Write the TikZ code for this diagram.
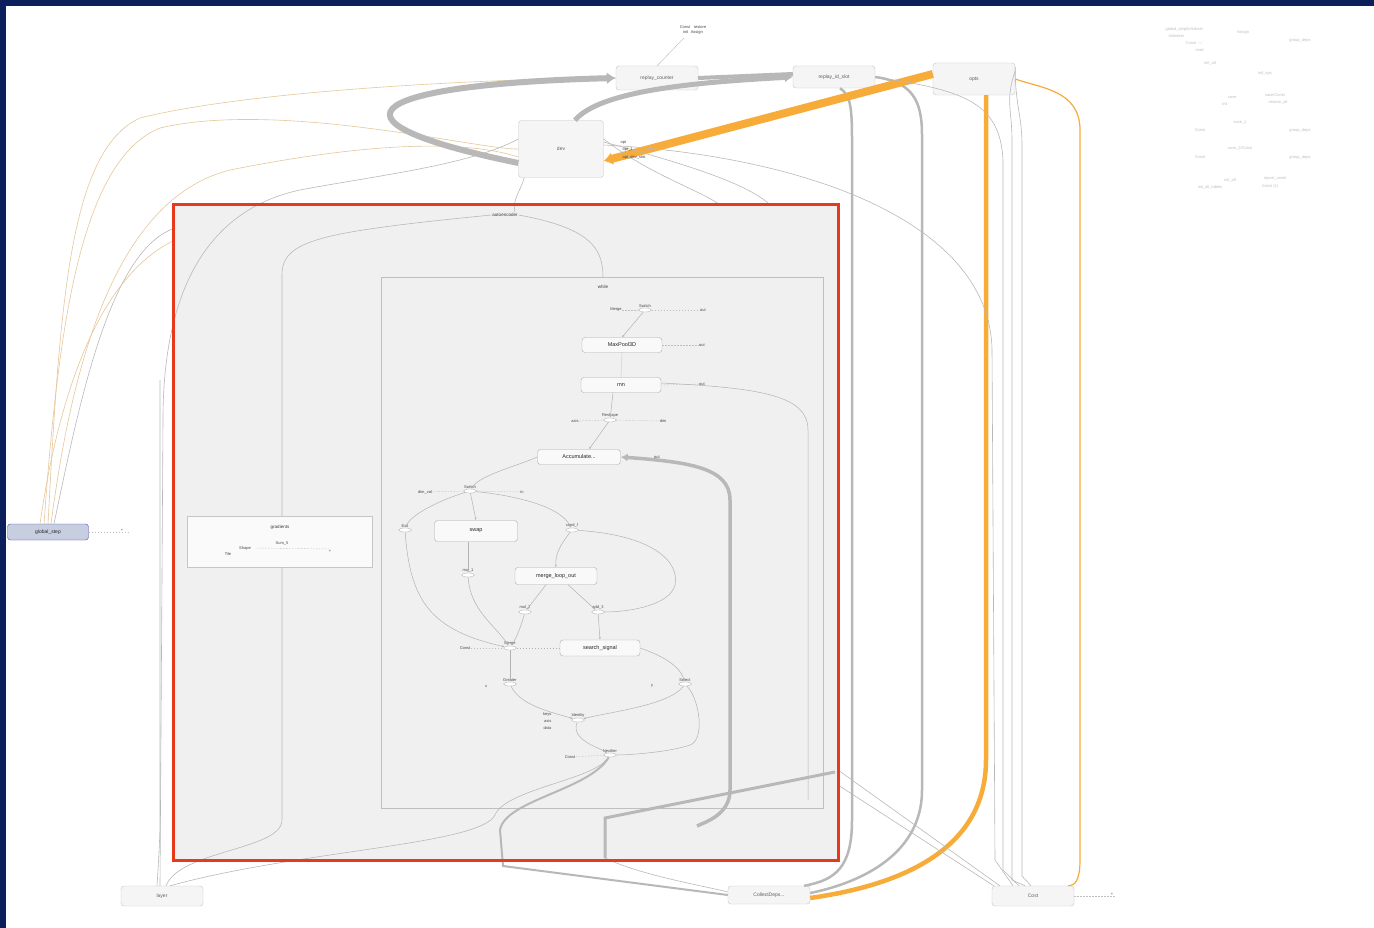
\documentclass[tikz,border=0pt]{standalone}
\usepackage{fontspec}
\setmainfont{Liberation Sans}
\usetikzlibrary{arrows.meta,shapes.geometric}
\definecolor{navy}{HTML}{0B1F5C}
\definecolor{redb}{HTML}{E8381E}
\definecolor{orng}{HTML}{F7AC3A}
\definecolor{tan}{HTML}{E6C79A}
\definecolor{edg}{HTML}{ABABAB}
\definecolor{boxf}{HTML}{F0F0F0}
\definecolor{gsf}{HTML}{C6CEE0}
\begin{document}
\begin{tikzpicture}[x=1pt,y=-1pt,
  opbox/.style={draw=gray!45, fill=gray!8, rounded corners=3pt, minimum width=82pt, minimum height=22pt, inner sep=0pt, font=\fontsize{5}{6}\selectfont, text=gray!75!black},
  inop/.style={draw=gray!65, fill=white!60!boxf, rounded corners=3pt, minimum width=80pt, minimum height=15pt, inner sep=0pt, font=\fontsize{5.5}{6}\selectfont, text=gray!30!black},
  smop/.style={ellipse, draw=gray!55, fill=white, minimum width=13pt, minimum height=4pt, inner sep=0pt},
  lbl/.style={font=\fontsize{4}{5}\selectfont, text=gray!55!black, inner sep=0.5pt},
  ulbl/.style={font=\fontsize{4.5}{5}\selectfont, text=gray!45!black, inner sep=0.8pt},
  ed/.style={draw=gray!60, line width=0.5pt},
  eda/.style={ed, -{Latex[length=2.5pt,width=2pt]}},
  thk/.style={draw=edg!85, line width=#1},
  thk/.default=4pt,
  oth/.style={draw=orng, line width=#1},
  oth/.default=4pt,
  tanl/.style={draw=tan, line width=0.6pt},
  grl/.style={draw=gray!55, line width=0.6pt},
  stub/.style={draw=gray!50, line width=0.4pt, dash pattern=on 1.5pt off 1.5pt}
]
\useasboundingbox (0,0) rectangle (1374,928);
\fill[navy] (0,0) rectangle (1374,928);
\fill[white] (6,6) rectangle (1374,928);

% ---------- outer nodes ----------
\node[opbox, minimum height=24pt] (rc) at (657,78) {replay\_counter};
\node[opbox] (ri) at (834,77) {replay\_id\_slot};
\node[opbox, minimum height=32pt] (opts) at (974,79) {opts};
\node[opbox, minimum width=85pt, minimum height=57pt] (dev) at (561,149) {dev};
\node[draw=gray!60!blue, fill=gsf, rounded corners=3pt, minimum width=81pt, minimum height=16pt, inner sep=0pt, font=\fontsize{5}{6}\selectfont, text=gray!30!black] (gs) at (48,532) {global\_step};
\node[opbox, minimum height=20pt] (layer) at (162,896) {layer};
\node[opbox, minimum height=18pt] (cd) at (769,895) {CollectDeps...};
\node[opbox, minimum height=20pt] (cost) at (1033,896) {Cost};

% ---------- red box ----------
\fill[boxf] (173,205) rectangle (838,860);

% ---------- outer edges ----------
\draw[tanl] (gs.north) .. controls (60,300) and (70,150) .. (140,118) .. controls (260,88) and (520,78) .. (rc.west);
\draw[tanl] ([xshift=-4pt]gs.north) .. controls (58,330) and (80,160) .. (160,128) .. controls (280,100) and (480,150) .. (dev.west);
\draw[tanl] ([xshift=3pt]gs.north) .. controls (70,380) and (110,200) .. (230,170) .. controls (330,150) and (450,135) .. ([yshift=-8pt]dev.west);
\draw[grl] ([xshift=6pt]gs.north) .. controls (80,400) and (110,250) .. (175,228);
\draw[tanl] ([xshift=-8pt]gs.north) .. controls (55,420) and (90,280) .. (175,240);
\draw[stub] (gs.east) -- (130,532);
\node[lbl] (gsl) at (122,530) {+};

\draw[thk=6pt, -{Latex[length=9pt,width=12pt]}] ([yshift=-14pt]dev.west) .. controls (300,118) and (380,84) .. (rc.west);
\draw[thk=5pt, -{Latex[length=8pt,width=10pt]}] ([xshift=14pt]dev.north) .. controls (600,90) and (700,82) .. (ri.west);
\draw[thk=4pt] (rc.east) -- ([yshift=3pt]ri.west);
\draw[thk=2.5pt] ([xshift=6pt]ri.south) .. controls (850,95) and (852,105) .. (852,140) -- (852,820) .. controls (852,868) and (835,880) .. ([xshift=-6pt]cd.north east);
\draw[thk=2.5pt] (ri.east) .. controls (912,82) and (922,100) .. (922,135) -- (922,790) .. controls (922,860) and (850,885) .. ([yshift=2pt]cd.east);
\draw[oth=8pt, -{Latex[length=9pt,width=13pt]}] ([yshift=5pt]opts.west) -- ([yshift=-12pt]dev.east);
\draw[oth=4.5pt] ([xshift=12pt]opts.south) -- (986,760) .. controls (986,860) and (880,888) .. ([yshift=-3pt]cd.east);
\draw[draw=orng, line width=1.2pt] (opts.east) .. controls (1040,88) and (1080,90) .. (1080,130) -- (1080,860) .. controls (1080,880) and (1075,886) .. ([xshift=-6pt]cost.north east);
\draw[grl] ([yshift=8pt]opts.east) .. controls (1005,100) and (1012,110) .. (1012,140) -- (1012,880) -- ([xshift=-8pt]cost.north);
\draw[grl] ([yshift=12pt]opts.east) .. controls (1015,105) and (1022,115) .. (1022,145) -- (1022,876) -- ([xshift=-2pt]cost.north);
\draw[grl] (ri.east) .. controls (960,90) and (1000,100) .. (1003,160) -- (1003,870) -- ([xshift=-14pt]cost.north);
\draw[grl] ([yshift=4pt]dev.east) .. controls (800,155) and (990,220) .. (992,350) -- (995,860) -- ([xshift=-20pt]cost.north);
\draw[grl] ([yshift=7pt]dev.east) .. controls (690,165) and (750,185) .. (770,205);
\draw[grl] ([yshift=10pt]dev.east) .. controls (650,175) and (700,190) .. (720,205);
\draw[grl] (838,770) -- ([xshift=8pt]cost.north west);
\draw[grl] (838,785) -- ([xshift=2pt]cost.north west);
\draw[stub] (cost.east) -- (1115,896);
\node[lbl] at (1112,894) {+};
\draw[stub] (cd.east) -- (845,896);
\node[lbl, align=center] (rcl) at (693,30) {Const \,\, restore\\ init\,\, Assign};
\draw[grl, line width=0.4pt] (684,38) -- (rc.north);
\node[lbl, anchor=west] at (620,143) {opt};
\node[lbl, anchor=west] at (622,150) {opt\_1};
\node[lbl, anchor=west] at (622,157) {opt\_dev\_slot};

% ---------- red box content ----------
\node[ulbl] (ae) at (505,215) {autoencoder};
\draw[grl] ([xshift=10pt]ae.north) .. controls (512,200) and (520,192) .. ([xshift=6pt]dev.south west);
\draw[draw=gray!50, line width=0.6pt, fill=boxf] (381,277) rectangle (823,808);
\node[ulbl] (wl) at (603,287) {while};
\draw[grl] (ae.east) .. controls (590,228) and (603,248) .. (603,277);
\draw[draw=gray!45, line width=0.6pt, fill=gray!4] (187,516) rectangle (372,567);
\node[ulbl] (gr) at (280,527) {gradients};
\draw[grl] (ae.west) .. controls (320,232) and (282,240) .. (282,275) -- (282,516);
\draw[grl] (282,567) -- (282,820) .. controls (282,850) and (180,850) .. ([xshift=4pt]layer.north);
\node[lbl] at (282,543) {Sum\_5};
\node[lbl] at (245,548) {Shape};
\node[lbl] at (228,554) {Tile};
\node[lbl] at (330,551) {+};
\draw[stub] (256,548) -- (330,549);
\draw[grl] ([xshift=-2pt]layer.north) -- (163,420) .. controls (163,260) and (230,205) .. (300,190) .. controls (380,175) and (470,165) .. ([yshift=10pt]dev.west);
\draw[grl] ([xshift=-5pt]layer.north) .. controls (158,870) and (160,840) .. (160,820) -- (160,380);
\draw[grl] ([xshift=8pt]layer.north) .. controls (300,850) and (480,845) .. (495,815) .. controls (505,790) and (590,780) .. (606,760);

% while contents
\node[smop, label={[lbl]above:Switch}] (sw1) at (645,310) {};
\node[lbl] (sw1a) at (616,310) {Merge};
\node[lbl] (sw1b) at (703,310) {out};
\draw[stub] (sw1a) -- (sw1); \draw[stub] (sw1) -- (sw1b);
\node[inop] (mp) at (622,345) {MaxPool3D};
\node[lbl] (mpl) at (702,345) {out};
\draw[stub] (mp.east) -- (mpl);
\node[inop] (conv) at (621,385) {rnn};
\node[lbl] (convl) at (702,384) {out};
\draw[stub] (conv.east) -- (convl);
\node[smop, label={[lbl]above:Reshape}] (resh) at (610,420) {};
\node[lbl] (rsa) at (575,421) {axis};
\node[lbl] (rsb) at (663,421) {dim};
\draw[stub] (rsa) -- (resh); \draw[stub] (resh) -- (rsb);
\node[inop, minimum width=83pt] (acc) at (579,457) {Accumulate...};
\node[lbl] (accl) at (657,457) {out};
\node[smop, label={[lbl]above:Switch}] (sw2) at (470,491) {};
\node[lbl] (sw2a) at (425,492) {dim\_val};
\node[lbl] (sw2b) at (522,492) {in};
\draw[stub] (sw2a) -- (sw2); \draw[stub] (sw2) -- (sw2b);
\node[smop, label={[lbl]above:Exit}] (exit) at (405,530) {};
\node[inop, minimum width=83pt, minimum height=21pt] (swap) at (476,531) {swap};
\node[smop, label={[lbl]above:cond\_f}] (cond) at (572,530) {};
\node[smop, label={[lbl]above:mul\_1}] (mul) at (468,575) {};
\node[inop, minimum width=82pt, minimum height=17pt] (evl) at (556,576) {merge\_loop\_out};
\node[smop, label={[lbl]above:mul\_2}] (mul1) at (525,612) {};
\node[smop, label={[lbl]above:add\_3}] (add) at (598,612) {};
\node[smop, label={[lbl]above:Merge}] (merge) at (510,648) {};
\node[lbl] (mergel) at (465,648) {Const};
\draw[stub] (mergel) -- (merge);
\node[inop, minimum height=16pt] (srch) at (600,648) {search\_signal};
\node[smop, label={[lbl]above:Greater}] (grt) at (510,684) {};
\node[lbl] (grtl) at (486,686) {x};
\node[smop, label={[lbl]above:Select}] (sel) at (685,684) {};
\node[lbl] (sell) at (652,686) {y};
\node[smop, label={[lbl]above:Identity}] (ident) at (578,720) {};
\node[lbl, anchor=east] at (552,714) {keys};
\node[lbl, anchor=east] at (552,721) {axis};
\node[lbl, anchor=east] at (552,728) {data};
\node[smop, label={[lbl]above:NextIter}] (nxt) at (610,755) {};
\node[lbl] (nxtl) at (570,757) {Const};
\draw[stub] (nxtl) -- (nxt);

\draw[eda] (sw1) -- (mp.north);
\draw[ed, dash pattern=on 1pt off 1pt] (mp.south) -- (conv.north);
\draw[eda] ([xshift=-8pt]conv.south) -- (resh);
\draw[eda] (resh) -- ([xshift=10pt]acc.north);
\draw[eda] (acc.west) .. controls (520,465) and (480,475) .. (sw2);
\draw[eda] (sw2) .. controls (440,500) and (410,515) .. (exit);
\draw[eda] (sw2) -- (swap.north);
\draw[eda] (sw2) .. controls (510,495) and (560,505) .. (cond);
\draw[eda] ([xshift=-8pt]swap.south) -- (mul);
\draw[eda] (cond) .. controls (560,545) and (555,555) .. (evl.north);
\draw[eda] ([xshift=-10pt]evl.south) -- (mul1);
\draw[eda] ([xshift=12pt]evl.south) -- (add);
\draw[ed] (cond) .. controls (650,535) and (680,560) .. (675,585) .. controls (670,605) and (630,612) .. (add);
\draw[eda] (exit) .. controls (410,600) and (430,630) .. (merge);
\draw[eda] (mul) .. controls (470,610) and (495,625) .. (merge);
\draw[eda] (mul1) .. controls (520,630) and (515,640) .. (merge);
\draw[ed, dash pattern=on 1.5pt off 1.5pt] (merge) -- (srch.west);
\draw[eda] (add) -- (srch.north);
\draw[eda] (merge) -- (grt);
\draw[eda] (srch.east) .. controls (660,655) and (680,665) .. (sel);
\draw[eda] (grt) .. controls (520,705) and (550,712) .. (ident);
\draw[eda] (sel) .. controls (670,705) and (610,712) .. (ident);
\draw[eda] (ident) .. controls (570,740) and (600,748) .. (nxt);
\draw[ed] (sel) .. controls (700,700) and (705,740) .. (690,745) .. controls (670,752) and (630,755) .. (nxt);
\draw[ed] ([yshift=2pt]conv.east) .. controls (760,388) and (808,395) .. (808,430) -- (808,800);

\draw[thk=3.5pt, -{Latex[length=7pt,width=8pt]}] (697,826) .. controls (705,822) and (730,815) .. (730,790) -- (730,500) .. controls (730,468) and (690,462) .. (acc.east);
\draw[thk=3pt] (835,772) -- (605,818) -- (605,858);
\draw[thk=2pt] (nxt) .. controls (590,790) and (505,800) .. (500,830) -- (503,866) -- (cd.west);
\draw[grl] (605,858) .. controls (640,875) and (700,885) .. ([yshift=3pt]cd.west);

\draw[redb, line width=3pt] (173,205) rectangle (838,860);

% ---------- top right summary ----------
\begin{scope}[every node/.style={lbl, text=gray!50}]
\node[anchor=west] at (1165,29) {global\_step/Initializer};
\node[anchor=west] at (1168,36) {Initializer};
\node[anchor=west] at (1185,43) {Const \;---};
\node[anchor=west] at (1195,50) {read};
\node at (1243,32) {Assign};
\node at (1300,40) {group\_deps};
\node at (1210,63) {init\_all};
\node at (1265,73) {init\_ops};
\node at (1232,97) {save};
\node at (1275,95) {save/Const};
\node at (1225,104) {init};
\node at (1278,102) {restore\_all};
\node at (1240,123) {save\_1};
\node at (1200,130) {Const};
\node at (1300,130) {group\_deps};
\node at (1240,148) {save\_2/Const};
\node at (1200,157) {Const};
\node at (1300,157) {group\_deps};
\node at (1230,180) {init\_all};
\node at (1275,178) {report\_uninit};
\node at (1210,187) {init\_all\_tables};
\node at (1270,186) {Const (1)};
\end{scope}
\end{tikzpicture}
\end{document}
